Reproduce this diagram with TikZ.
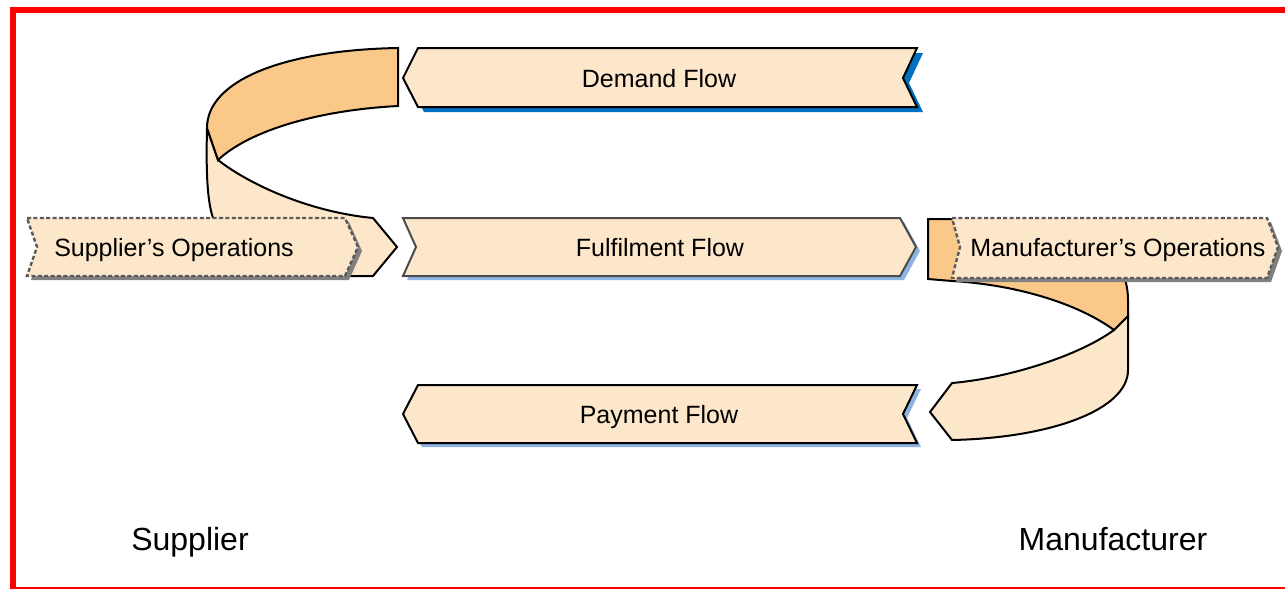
\documentclass[tikz,border=0pt]{standalone}
\usepackage{fontspec}
\setmainfont{Liberation Sans}
\definecolor{peach}{RGB}{253,231,202}
\definecolor{ribbon}{RGB}{250,201,138}
\definecolor{darkblue}{RGB}{0,112,192}
\definecolor{lightblue}{RGB}{141,179,226}
\definecolor{shadowgray}{RGB}{128,128,128}
\definecolor{dashgray}{RGB}{90,90,90}
\definecolor{borderred}{RGB}{255,0,0}
\begin{document}
\begin{tikzpicture}[x=0.5pt,y=-0.5pt,
  flowbox/.style={fill=peach,draw=black,line width=1pt,line join=miter},
  opsbox/.style={fill=peach,draw=dashgray,line width=1.2pt,dash pattern=on 2pt off 1.2pt},
  ribdark/.style={fill=ribbon,draw=black,line width=1pt},
  riblight/.style={fill=peach,draw=black,line width=1pt},
  flowlabel/.style={font=\fontsize{12.5}{14}\selectfont,anchor=base,inner sep=0pt},
  sidelabel/.style={font=\fontsize{16}{18}\selectfont,anchor=base,inner sep=0pt}]
\useasboundingbox (0,0) rectangle (1285,589);
% red frame
\fill[borderred] (10,7) rectangle (1285,13);
\fill[borderred] (10,7) rectangle (16,589);
\fill[borderred] (10,587) rectangle (1285,589);

% left ribbon (light part first)
\path[riblight] (207,128) .. controls (206,170) and (207,200) .. (213,218) -- (213,276) -- (373,276) -- (397,247) -- (373,218)
  .. controls (310,212) and (250,185) .. (218,160) -- cycle;
\path[ribdark] (398,48) .. controls (285,50) and (207,80) .. (207,128) -- (218,160)
  .. controls (250,130) and (320,110) .. (398,106) -- cycle;

% Supplier's operations
\fill[shadowgray] (31,222) -- (349,222) -- (362,251) -- (349,280) -- (31,280) -- (41,251) -- cycle;
\path[opsbox] (27,218) -- (345,218) -- (358,247) -- (345,276) -- (27,276) -- (37,247) -- cycle;
\node[flowlabel] (supops) at (174,256) {Supplier’s Operations};

% Demand flow
\fill[darkblue] (409,83) -- (424,53) -- (923,53) -- (909,83) -- (923,112) -- (424,112) -- cycle;
\path[flowbox] (403,78) -- (418,48) -- (917,48) -- (903,78) -- (917,107) -- (418,107) -- cycle;
\node[flowlabel] (demand) at (659,87) {Demand Flow};

% Fulfilment flow
\fill[lightblue] (407,222) -- (904,222) -- (920,251) -- (904,280) -- (407,280) -- (420,251) -- cycle;
\path[flowbox,draw=black!70] (403,218) -- (900,218) -- (916,247) -- (900,276) -- (403,276) -- (416,247) -- cycle;
\node[flowlabel] (fulfil) at (660,256) {Fulfilment Flow};

% Payment flow
\fill[lightblue] (407,418) -- (422,389) -- (921,389) -- (907,418) -- (921,447) -- (422,447) -- cycle;
\path[flowbox] (403,414) -- (418,385) -- (917,385) -- (903,414) -- (917,443) -- (418,443) -- cycle;
\node[flowlabel] (payment) at (659,423) {Payment Flow};

% right ribbon
\path[riblight] (1128,316) -- (1128,370) .. controls (1128,410) and (1050,438) .. (952,440) -- (930,412) -- (952,383)
  .. controls (1010,378) and (1080,355) .. (1114,330) -- cycle;
\path[ribdark] (928,219) -- (1000,219) .. controls (1080,222) and (1128,250) .. (1128,300) -- (1128,316) -- (1114,330)
  .. controls (1080,305) and (1020,285) .. (952,281) -- (928,279) -- cycle;

% Manufacturer's operations
\fill[shadowgray] (956,222) -- (1271,222) -- (1282,251) -- (1271,282) -- (956,282) -- (964,251) -- cycle;
\path[opsbox] (952,218) -- (1267,218) -- (1278,247) -- (1267,278) -- (952,278) -- (960,247) -- cycle;
\node[flowlabel] (manops) at (1118,256) {Manufacturer’s Operations};

% side labels
\node[sidelabel] (supplier) at (190,550) {Supplier};
\node[sidelabel] (manufacturer) at (1113,550) {Manufacturer};
\end{tikzpicture}
\end{document}
